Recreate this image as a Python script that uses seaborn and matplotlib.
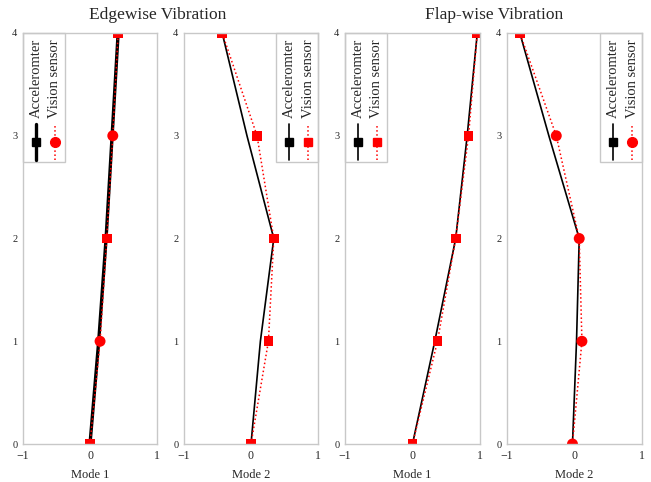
import matplotlib
matplotlib.use("Agg")
import matplotlib.pyplot as plt
import seaborn as sns
import pandas as pd
from matplotlib.lines import Line2D
from matplotlib.patches import Rectangle

sns.set_style("white")
plt.rcParams['font.family'] = ['Liberation Serif', 'DejaVu Serif']
plt.rcParams['axes.unicode_minus'] = True

# ---- data ----
heights = [0, 1, 2, 3, 4]
edge_m1_acc = [0.0, 0.13, 0.24, 0.33, 0.42]
edge_m1_vis = [0.0, 0.15, 0.25, 0.34, 0.42]
edge_m2_acc = [0.0, 0.14, 0.34, -0.06, -0.43]
edge_m2_vis = [0.0, 0.26, 0.34, 0.09, -0.43]
flap_m1_acc = [0.0, 0.33, 0.64, 0.81, 0.96]
flap_m1_vis = [0.0, 0.37, 0.64, 0.83, 0.96]
flap_m2_acc = [-0.03, 0.03, 0.07, -0.38, -0.81]
flap_m2_vis = [-0.03, 0.11, 0.07, -0.27, -0.81]

# marker shape of each vision-sensor point as seen in the picture
edge_m1_shapes = ['sq', 'ci', 'sq', 'ci', 'sq']
edge_m2_shapes = ['sq', 'sq', 'sq', 'sq', 'sq']
flap_m1_shapes = ['sq', 'sq', 'sq', 'sq', 'sq']
flap_m2_shapes = ['ci', 'ci', 'ci', 'ci', 'sq']

x_labels = ["Mode 1", "Mode 2", "Mode 1", "Mode 2"]
titles = ["Edgewise Vibration", "Flap-wise Vibration"]
series_names = ["Acceleromter", "Vision sensor"]

panels = [
    (edge_m1_acc, edge_m1_vis, edge_m1_shapes, 'o', 2.4, 'left'),
    (edge_m2_acc, edge_m2_vis, edge_m2_shapes, 's', 1.2, 'right'),
    (flap_m1_acc, flap_m1_vis, flap_m1_shapes, 's', 1.2, 'left'),
    (flap_m2_acc, flap_m2_vis, flap_m2_shapes, 'o', 1.2, 'right'),
]

W, H = 651, 482
fig = plt.figure(figsize=(W / 100, H / 100), dpi=100)
lefts = [23, 184, 345, 507]
widths = [134, 134, 135, 135]
top_px, bot_px = 33, 444
spine_col = '#c8c8c8'

for i, (acc, vis, shapes, vmark, lw, legside) in enumerate(panels):
    ax = fig.add_axes([lefts[i] / W, 1 - bot_px / H, widths[i] / W, (bot_px - top_px) / H])
    df = pd.DataFrame({"y": heights, "acc": acc, "vis": vis, "shape": shapes})
    sns.lineplot(data=df, x="acc", y="y", orient="y", sort=False, ax=ax,
                 color='black', linewidth=lw, zorder=3)
    sns.lineplot(data=df, x="vis", y="y", orient="y", sort=False, ax=ax,
                 color='red', linewidth=1.1, linestyle=':', zorder=4)
    sns.scatterplot(data=df, x="vis", y="y", style="shape", size="shape",
                    sizes={'sq': 48, 'ci': 62},
                    markers={'sq': 's', 'ci': 'o'}, color='red',
                    linewidth=0, ax=ax, legend=False, zorder=5)
    ax.set_xlim(-1, 1)
    ax.set_ylim(0, 4)
    ax.set_xticks([-1, 0, 1])
    ax.set_xticks([-0.5, 0.5], minor=True)
    ax.set_yticks([0, 1, 2, 3, 4])
    ax.set_yticks([0.5, 1.5, 2.5, 3.5], minor=True)
    ax.tick_params(axis='both', which='both', direction='in', color=spine_col,
                   length=3, width=0.8)
    ax.tick_params(axis='x', which='major', labelsize=8.5, pad=4)
    ax.tick_params(axis='y', which='major', labelsize=7.5, pad=4)
    ax.set_xlabel(x_labels[i], fontsize=9, labelpad=5)
    ax.set_ylabel("")
    for s in ax.spines.values():
        s.set_color(spine_col)
        s.set_linewidth(1.0)
        s.set_zorder(9)

    # rotated legend drawn in axes coordinates
    bw = 42 / widths[i]
    bh = (162 - top_px) / (bot_px - top_px)
    x0 = 0.0 if legside == 'left' else 1 - bw
    ax.add_patch(Rectangle((x0, 1 - bh), bw, bh, transform=ax.transAxes,
                           facecolor='white', edgecolor=spine_col, linewidth=1.0,
                           zorder=6, clip_on=False))
    tx1 = x0 + 13 / widths[i]
    tx2 = x0 + 32 / widths[i]
    ytxt = (bot_px - 118) / (bot_px - top_px)
    for tx, name in zip([tx1, tx2], series_names):
        ax.text(tx, ytxt, name, rotation=90, ha='center', va='bottom',
                fontsize=10.5, transform=ax.transAxes, zorder=7)
    yh0 = (bot_px - 160) / (bot_px - top_px)
    yh1 = (bot_px - 124) / (bot_px - top_px)
    ym = (bot_px - 142) / (bot_px - top_px)
    ax.add_line(Line2D([tx1, tx1], [yh0, yh1], color='black', linewidth=lw,
                       transform=ax.transAxes, zorder=7))
    ax.add_line(Line2D([tx1], [ym], color='black', marker='s', markersize=6,
                       transform=ax.transAxes, zorder=8))
    ax.add_line(Line2D([tx2, tx2], [yh0, yh1], color='red', linewidth=1.1,
                       linestyle=':', transform=ax.transAxes, zorder=7))
    ax.add_line(Line2D([tx2], [ym], color='red', marker=vmark,
                       markersize=7 if vmark == 'o' else 6,
                       transform=ax.transAxes, zorder=8))

fig.text(157.5 / W, 1 - 15 / H, titles[0], ha='center', va='center', fontsize=12.5)
fig.text(494 / W, 1 - 15 / H, titles[1], ha='center', va='center', fontsize=12.5)

fig.savefig("out.png", dpi=100)
